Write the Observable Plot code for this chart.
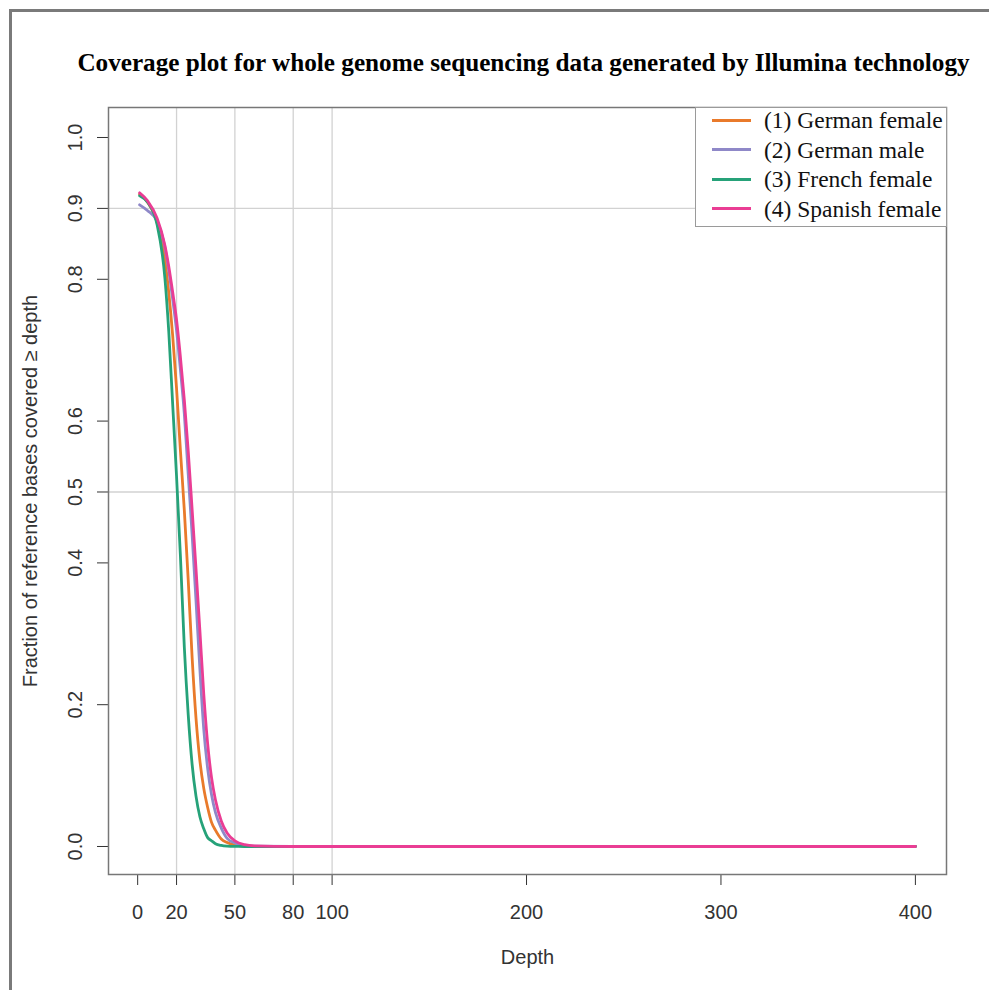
<!DOCTYPE html>
<html><head><meta charset="utf-8">
<script src="https://cdn.jsdelivr.net/npm/d3@7"></script>
<script src="https://cdn.jsdelivr.net/npm/@observablehq/plot@0.6"></script>
<style>
html,body{margin:0;padding:0;background:#fff;}
#wrap{position:relative;width:989px;height:990px;overflow:hidden;background:#fff;}
#chart{position:absolute;left:0;top:0;}
#border{position:absolute;left:9px;top:9px;width:1000px;height:1000px;border-left:3px solid #7a7a7a;border-top:3px solid #7a7a7a;}
#legend{position:absolute;left:695px;top:107px;width:250px;height:118px;border:1px solid #9a9a9a;background:#fff;font-family:"Liberation Serif",serif;font-size:23.5px;color:#111;}
.sw{position:absolute;left:16px;width:39px;height:3px;}
.lab{position:absolute;left:68px;white-space:nowrap;line-height:30px;height:30px;}
</style></head><body>
<div id="wrap"><div id="chart"></div><div id="border"></div><div id="legend"></div></div>
<script>
const title = "Coverage plot for whole genome sequencing data generated by Illumina technology";
const xTitle = "Depth";
const yTitle = "Fraction of reference bases covered \u2265 depth";
const xTicks = [0, 20, 50, 80, 100, 200, 300, 400];
const yTicks = [0.0, 0.2, 0.4, 0.5, 0.6, 0.8, 0.9, 1.0];
const vGrid = [20, 50, 80, 100];
const hGrid = [0.9, 0.5];
const seriesNames = ["(1) German female", "(2) German male", "(3) French female", "(4) Spanish female"];
const seriesColors = ["#E97A2B", "#8F88C8", "#26A279", "#EA3D94"];

const depth        = [1,     5,     10,    14,    16,    18,    20,    22,    24,    26,    28,    30,    32,    34,    36,     38,    40,    43,     46,     50,     55,     60,     80, 100, 200, 300, 400];
const germanFemale = [0.920, 0.909, 0.880, 0.828, 0.781, 0.721, 0.646, 0.558, 0.474, 0.376, 0.267, 0.181, 0.121, 0.082, 0.055,  0.034, 0.023, 0.0105, 0.0055, 0.002,  0.0006, 0.0002, 0, 0, 0, 0, 0];
const germanMale   = [0.905, 0.897, 0.882, 0.845, 0.812, 0.772, 0.728, 0.672, 0.610, 0.525, 0.440, 0.347, 0.250, 0.165, 0.110,  0.073, 0.048, 0.026,  0.0115, 0.005,  0.0015, 0.0004, 0, 0, 0, 0, 0];
const frenchFemale = [0.918, 0.909, 0.877, 0.802, 0.726, 0.624, 0.522, 0.409, 0.281, 0.186, 0.116, 0.071, 0.042, 0.025, 0.0125, 0.008, 0.004, 0.0015, 0.0005, 0.0001, 0,      0,      0, 0, 0, 0, 0];
const spanishFemale= [0.922, 0.911, 0.886, 0.848, 0.818, 0.782, 0.743, 0.690, 0.630, 0.558, 0.476, 0.392, 0.305, 0.215, 0.145,  0.097, 0.066, 0.036,  0.019,  0.008,  0.0025, 0.0008, 0, 0, 0, 0, 0];

const seriesValues = [germanFemale, germanMale, frenchFemale, spanishFemale];
const rows = seriesValues.map((vals, s) => depth.map((d, i) => ({depth: d, frac: vals[i], series: seriesNames[s]})));

const sans = "'Liberation Sans', Arial, Helvetica, sans-serif";
const chart = Plot.plot({
  width: 989, height: 990,
  marginTop: 107, marginBottom: 116, marginLeft: 108, marginRight: 43,
  style: {fontFamily: sans, fontSize: "20px", color: "#333", background: "transparent", overflow: "visible"},
  x: {domain: [-15, 416], ticks: xTicks, tickSize: 11, tickPadding: 19, tickFormat: d => String(d), label: null},
  y: {domain: [-0.0395, 1.0423], ticks: yTicks, tickSize: 11, tickFormat: () => "", label: null},
  marks: [
    Plot.ruleX(vGrid, {stroke: "#d2d2d2", strokeWidth: 1.3}),
    Plot.ruleY(hGrid, {stroke: "#d2d2d2", strokeWidth: 1.3}),
    Plot.frame({stroke: "#777", strokeWidth: 1.5}),
    ...rows.map((r, s) => Plot.line(r, {x: "depth", y: "frac", stroke: seriesColors[s], strokeWidth: 2.8, curve: "monotone-x"})),
    Plot.text(yTicks, {y: d => d, text: d => d.toFixed(1), frameAnchor: "left", textAnchor: "middle", dx: -33, rotate: -90, fontSize: 20, fill: "#333"}),
    Plot.text([yTitle], {frameAnchor: "left", textAnchor: "middle", dx: -78, rotate: -90, fontSize: 20, fill: "#333"}),
    Plot.text([xTitle], {frameAnchor: "bottom", dy: 89, fontSize: 20, fill: "#333"}),
    Plot.text([title], {frameAnchor: "top", dy: -54, dx: -4, fontSize: 25.2, fontWeight: "bold", fontFamily: "'Liberation Serif', 'Times New Roman', serif", fill: "#000"})
  ]
});
document.getElementById("chart").appendChild(chart);

const legend = document.getElementById("legend");
const rowCenters = [12, 41.5, 71, 100.5];
seriesNames.forEach((name, i) => {
  const sw = document.createElement("div");
  sw.className = "sw";
  sw.style.top = (rowCenters[i] - 1.5) + "px";
  sw.style.background = seriesColors[i];
  legend.appendChild(sw);
  const lab = document.createElement("div");
  lab.className = "lab";
  lab.style.top = (rowCenters[i] - 15) + "px";
  lab.textContent = name;
  legend.appendChild(lab);
});
</script>
</body></html>
